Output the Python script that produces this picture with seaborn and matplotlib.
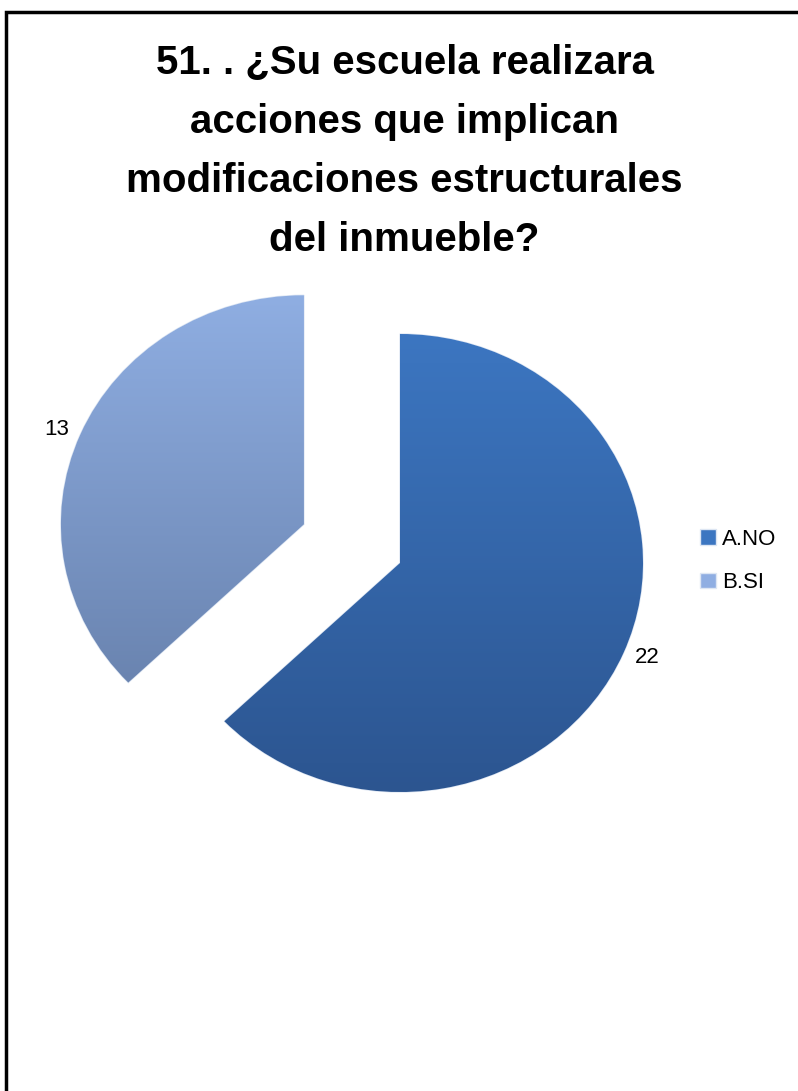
import matplotlib
matplotlib.use("Agg")
import matplotlib.pyplot as plt
import numpy as np
import seaborn as sns
from matplotlib.colors import LinearSegmentedColormap
from matplotlib.patches import Rectangle

categories = ["A.NO", "B.SI"]
counts = [22, 13]
value_labels = ["22", "13"]
title = ("51. . ¿Su escuela realizara\nacciones que implican\n"
         "modificaciones estructurales\ndel inmueble?")

# top / bottom colour of each slice (vertical shading like the original)
top_colors = ["#3c76c1", "#8faee2"]
bottom_colors = ["#2c5590", "#6a84b0"]

sns.set_theme(style="white")
plt.rcParams["font.family"] = ["Liberation Sans", "DejaVu Sans"]
plt.rcParams["text.color"] = "black"

W, H = 798, 1091
fig = plt.figure(figsize=(W / 100, H / 100), dpi=100)
ax = fig.add_axes([0, 0, 1, 1])

wedges, texts = ax.pie(
    counts,
    labels=value_labels,
    colors=top_colors,
    startangle=90,
    counterclock=False,
    explode=[0, 0.43],
    labeldistance=1.05,
    textprops=dict(fontsize=16, color="black"),
    wedgeprops=dict(linewidth=1.0, edgecolor="#dde6f3"),
)

grad = np.linspace(0, 1, 256).reshape(-1, 1)
for w, c_top, c_bot in zip(wedges, top_colors, bottom_colors):
    bb = w.get_path().get_extents()
    cmap = LinearSegmentedColormap.from_list("g", [c_bot, c_top])
    im = ax.imshow(grad, extent=(bb.x0, bb.x1, bb.y0, bb.y1), origin="lower",
                   cmap=cmap, aspect="auto", zorder=w.get_zorder() + 0.1)
    im.set_clip_path(w)

# map pie centre to the pixel position of the original
px_x, px_y = 243, 229
cx, cy = 400, 563
ax.set_aspect("auto")
ax.set_xlim(-cx / px_x, (W - cx) / px_x)
ax.set_ylim(-(H - cy) / px_y, cy / px_y)
ax.axis("off")

fig.text(0.507, 1 - 152 / H, title, ha="center", va="center", fontsize=29,
         fontweight="bold", linespacing=1.7, color="black")

fig.legend(wedges, categories, loc="center left", bbox_to_anchor=(680 / W, 1 - 561 / H),
           frameon=False, handlelength=0.7, handleheight=0.7,
           handletextpad=0.3, labelspacing=1.0,
           prop=dict(size=16))

fig.add_artist(Rectangle((6 / W, -0.1), 1.2, (1 - 12 / H) + 0.1, transform=fig.transFigure,
                         fill=False, lw=2.5, ec="black", clip_on=False))

fig.savefig("out.png", dpi=100)
